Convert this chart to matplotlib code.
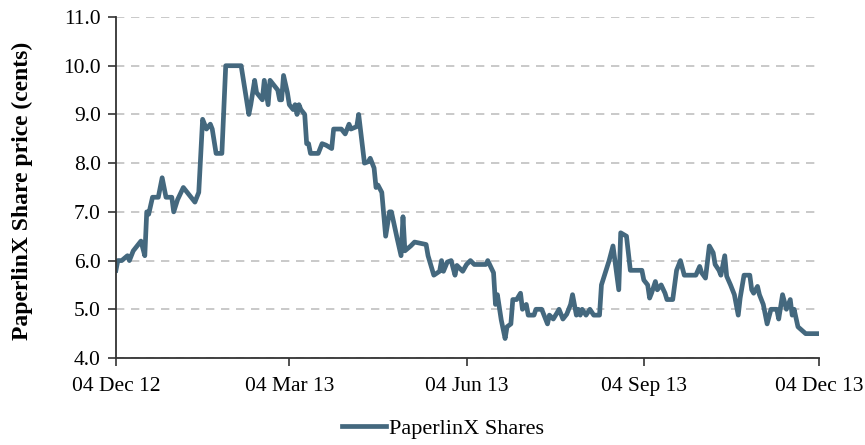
import numpy as np
import matplotlib
matplotlib.use("Agg")
import matplotlib.pyplot as plt
import matplotlib.dates as mdates

plt.rcParams['font.family'] = ['Liberation Serif', 'DejaVu Serif']

start_date = '2012-12-04'
day_offsets = [0, 1, 3, 6, 7, 9, 10, 13, 15, 16, 17, 19, 22, 24, 26, 29, 30, 32, 35, 37,
               41, 43, 45, 47, 49, 50, 52, 55, 57, 65, 69, 70, 72, 73, 76, 77, 79, 80, 82, 84,
               85, 86, 87, 89, 90, 92, 93, 94, 95, 96, 98, 99, 100, 101, 105, 107, 109, 112, 113, 117,
               119, 121, 122, 125, 126, 129, 131, 132, 134, 135, 136, 138, 140, 142, 143, 146, 148, 149, 150, 153,
               155, 161, 162, 165, 168, 169, 170, 172, 174, 176, 177, 180, 182, 184, 186, 192, 193, 196, 197, 198,
               200, 202, 203, 205, 206, 208, 210, 211, 213, 214, 217, 218, 221, 224, 225, 227, 229, 230, 232, 234,
               236, 237, 239, 240, 241, 242, 244, 246, 248, 251, 252, 254, 256, 258, 261, 262, 265, 267, 273, 274,
               276, 277, 278, 280, 281, 283, 285, 286, 289, 291, 293, 295, 301, 303, 304, 306, 308, 310, 311, 313,
               314, 316, 317, 319, 321, 323, 324, 326, 329, 330, 331, 333, 334, 336, 338, 340, 343, 344, 346, 348,
               350, 351, 352, 354, 356, 358, 365]
prices = [5.8, 6.0, 6.0, 6.1, 6.0, 6.2, 6.25, 6.4, 6.1, 7.0, 6.95, 7.3, 7.3, 7.7, 7.3, 7.3, 7.0, 7.25, 7.5, 7.4,
          7.2, 7.4, 8.9, 8.7, 8.8, 8.7, 8.2, 8.2, 10.0, 10.0, 9.0, 9.2, 9.7, 9.45, 9.3, 9.7, 9.2, 9.7, 9.6, 9.5,
          9.3, 9.3, 9.8, 9.45, 9.2, 9.1, 9.2, 9.0, 9.2, 9.1, 9.0, 8.4, 8.4, 8.2, 8.2, 8.4, 8.37, 8.3, 8.7, 8.7,
          8.6, 8.8, 8.7, 8.75, 9.0, 8.0, 8.03, 8.1, 7.9, 7.5, 7.55, 7.4, 6.5, 7.0, 7.0, 6.45, 6.1, 6.9, 6.2, 6.3,
          6.38, 6.33, 6.1, 5.7, 5.78, 6.0, 5.78, 5.97, 6.0, 5.7, 5.9, 5.78, 5.92, 6.0, 5.92, 5.92, 6.0, 5.75, 5.1, 5.3,
          4.78, 4.4, 4.64, 4.7, 5.2, 5.2, 5.33, 5.0, 5.1, 4.88, 4.88, 5.0, 5.0, 4.7, 4.88, 4.8, 4.93, 5.0, 4.8, 4.9,
          5.1, 5.3, 4.88, 5.0, 4.88, 5.0, 4.88, 5.0, 4.88, 4.88, 5.5, 5.75, 6.0, 6.3, 5.4, 6.57, 6.5, 5.8, 5.8, 5.6,
          5.5, 5.23, 5.33, 5.57, 5.4, 5.5, 5.33, 5.2, 5.2, 5.8, 6.0, 5.7, 5.7, 5.88, 5.75, 5.64, 6.3, 6.16, 5.92, 5.8,
          5.7, 6.1, 5.68, 5.5, 5.3, 4.88, 5.23, 5.7, 5.7, 5.4, 5.33, 5.47, 5.3, 5.1, 4.7, 5.0, 5.0, 4.8, 5.3, 5.0,
          5.2, 4.88, 5.0, 4.64, 4.57, 4.5, 4.5]
tick_dates = ['2012-12-04', '2013-03-04', '2013-06-04', '2013-09-04', '2013-12-04']
series_label = 'PaperlinX Shares'
y_label = 'PaperlinX Share price (cents)'

start = np.datetime64(start_date)
dates = start + np.array(day_offsets).astype('timedelta64[D]')

fig = plt.figure(figsize=(8.65, 4.45), dpi=100)
ax = fig.add_axes([0.134, 0.1955, 0.813, 0.7663])

ax.plot(dates, prices, color='#44687e', lw=3.4, label=series_label, solid_joinstyle='round')

ax.set_xlim(np.datetime64(tick_dates[0]), np.datetime64(tick_dates[-1]))
ax.set_ylim(4.0, 11.0)
ax.set_yticks(np.arange(4.0, 11.01, 1.0))
ax.yaxis.set_major_formatter(matplotlib.ticker.FormatStrFormatter('%.1f'))
ax.set_xticks([np.datetime64(d) for d in tick_dates])
ax.xaxis.set_major_formatter(mdates.DateFormatter('%d %b %y'))

ax.grid(axis='y', color='#c0c0c0', linestyle=(0, (5, 4)), lw=1.2)
ax.set_axisbelow(True)
for s in ['top', 'right']:
    ax.spines[s].set_visible(False)
for s in ['left', 'bottom']:
    ax.spines[s].set_color('#333333')
    ax.spines[s].set_linewidth(1.3)
ax.tick_params(axis='both', direction='out', length=6, width=1.2, color='#333333',
               labelsize=15.5, labelcolor='black')
ax.tick_params(axis='y', pad=5)
ax.tick_params(axis='x', pad=8)

ax.set_ylabel(y_label, fontsize=17, fontweight='bold')
ax.yaxis.set_label_coords(-0.118, 0.49)

fig.legend(loc='center', bbox_to_anchor=(0.512, 0.036), frameon=False, fontsize=16,
           handlelength=2.0, handletextpad=0.1)

fig.savefig('out.png', dpi=100)
